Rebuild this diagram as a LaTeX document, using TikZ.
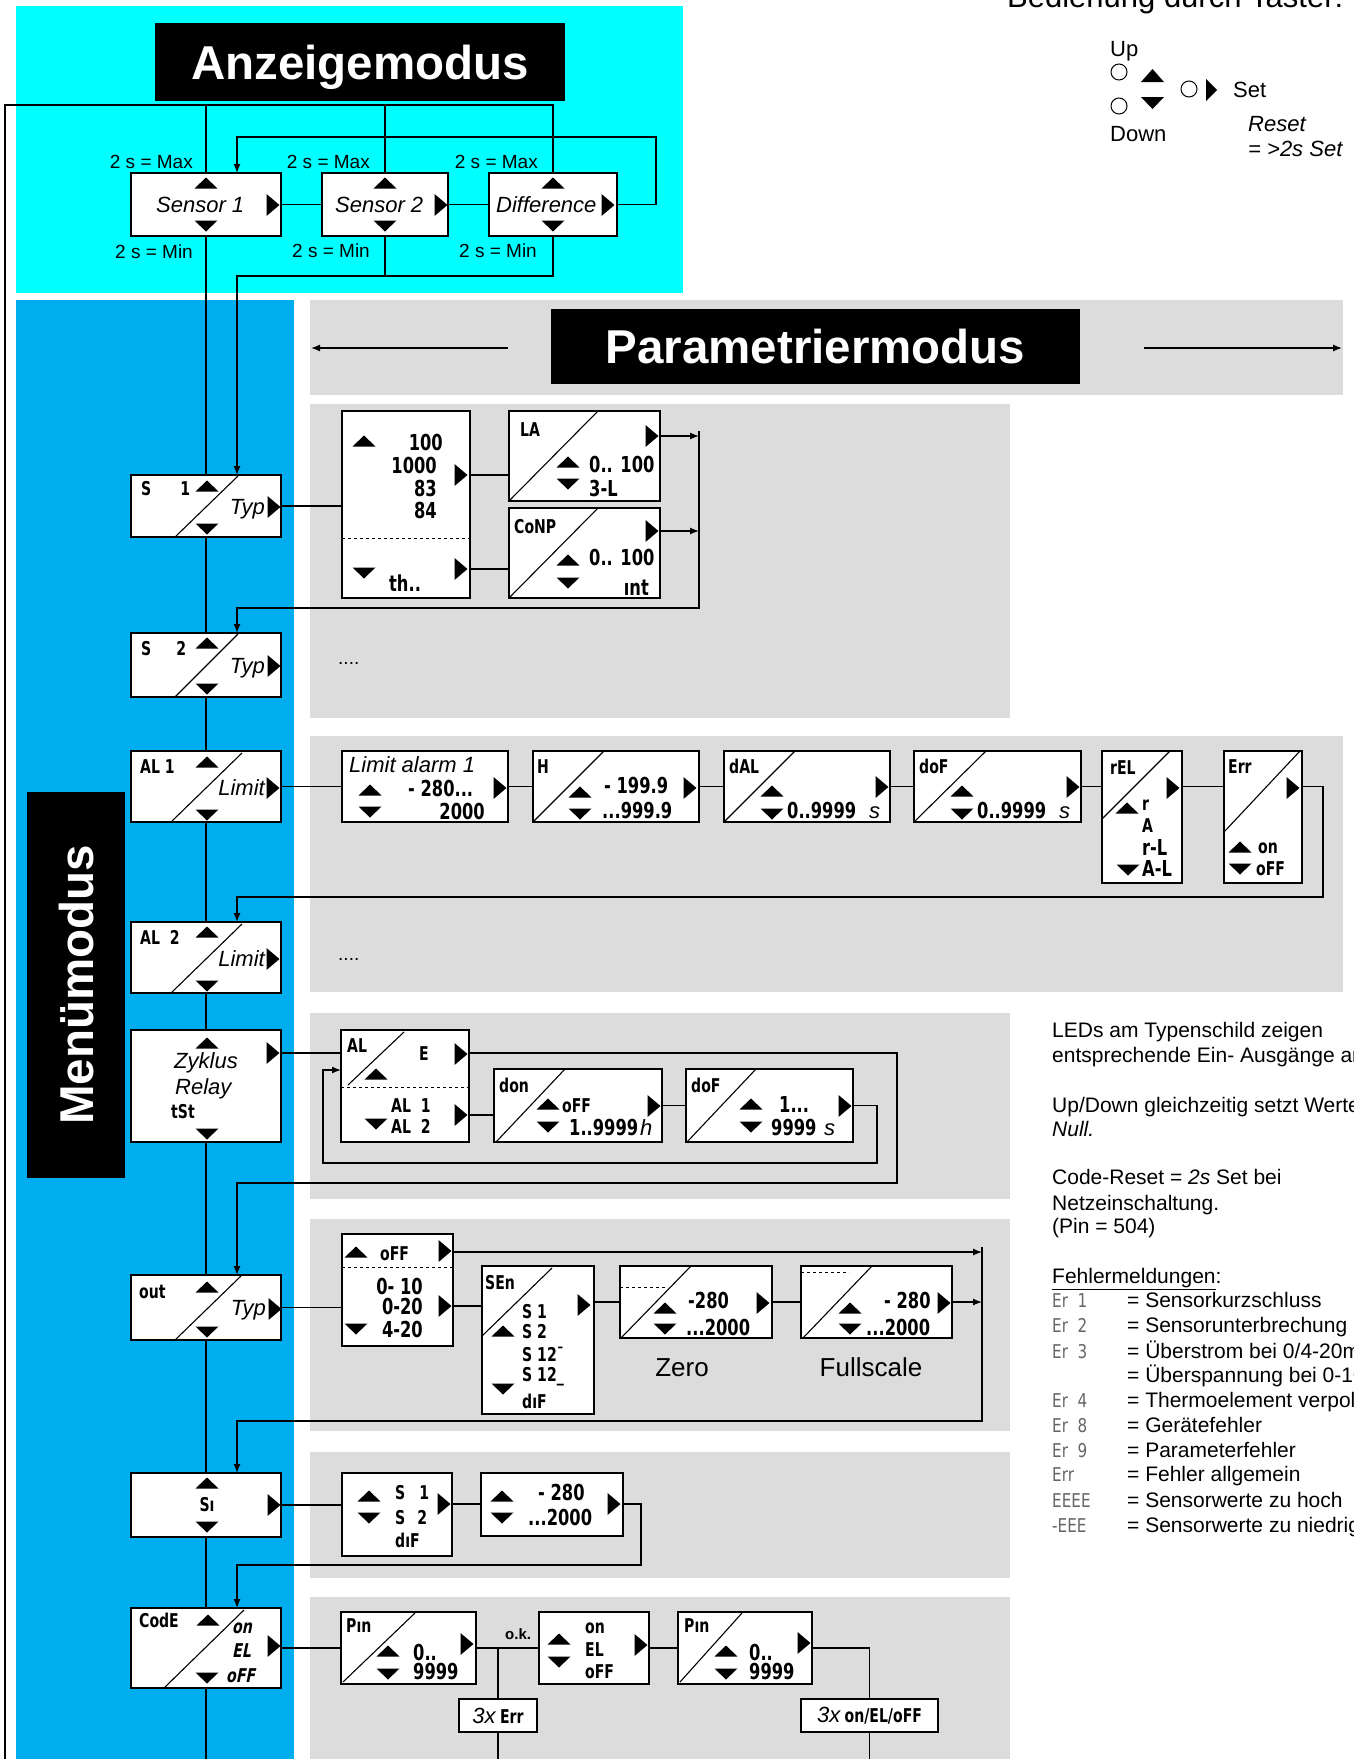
\documentclass[tikz,border=0pt]{standalone}
\usepackage{fontspec}
\setmainfont{Liberation Sans}
\newfontfamily\seg[FakeStretch=0.74]{DejaVu Sans Bold}
\newfontfamily\segi[FakeStretch=0.74,FakeSlant=0.2]{DejaVu Sans Bold}
\newfontfamily\segthin[FakeStretch=0.8]{DejaVu Sans}
\usetikzlibrary{arrows.meta}
\definecolor{cyanbg}{RGB}{0,255,255}
\definecolor{menublue}{RGB}{0,174,239}
\definecolor{pgray}{RGB}{220,220,220}
\tikzset{
  tu/.pic={\fill (-11.5,5.5) -- (11.5,5.5) -- (0,-5.5) -- cycle;},
  td/.pic={\fill (-11.5,-5.5) -- (11.5,-5.5) -- (0,5.5) -- cycle;},
  tr/.pic={\fill (-6.5,-11) -- (6.5,0) -- (-6.5,11) -- cycle;},
}
\newcounter{tn}
\newcommand\lbl[3]{\stepcounter{tn}\edef\tmpname{t\arabic{tn}}\node[#1] (\tmpname) at (#2) {#3};}
\newcommand\bx[5]{\node[bx,anchor=north west,minimum width={#4-#2},minimum height={#5-#3}] (#1) at (#2,#3) {};}
\begin{document}
\begin{tikzpicture}[x=1pt,y=-1pt,
  bx/.style={draw,fill=white,line width=1.4pt,inner sep=0pt,outer sep=0pt},
  ln/.style={line width=1.3pt},
  dg/.style={line width=1.1pt},
  dsh/.style={dashed,line width=1pt},
  arr/.style={ln,-{Latex[length=9pt,width=7pt]}},
  lft/.style={anchor=base west,inner sep=0pt},
  rgt/.style={anchor=base east,inner sep=0pt},
  ctr/.style={anchor=base,inner sep=0pt},
  sg/.style={font=\seg\fontsize{22}{26}\selectfont},
  sl/.style={font=\seg\fontsize{19}{22}\selectfont},
  si/.style={font=\segi\fontsize{19}{22}\selectfont},
  er/.style={font=\segthin\fontsize{19}{22}\selectfont,text=black!60},
  it/.style={font=\itshape\fontsize{22}{26}\selectfont},
  ar/.style={font=\fontsize{19}{23}\selectfont},
  rt/.style={font=\fontsize{21}{25}\selectfont},
  lg/.style={font=\fontsize{22}{26}\selectfont},
  ttl/.style={fill=black,text=white,font=\bfseries\fontsize{47.5}{50}\selectfont,inner sep=0pt,text depth=0pt},
]
\useasboundingbox (0,0) rectangle (1353,1759);
% ---------- backgrounds
\fill[cyanbg] (16,6) rectangle (683,293);
\fill[menublue] (16,300) rectangle (294,1759);
\fill[pgray] (310,300) rectangle (1343,395);
\fill[pgray] (310,404) rectangle (1010,718);
\fill[pgray] (310,736) rectangle (1343,992);
\fill[pgray] (310,1013) rectangle (1010,1199);
\fill[pgray] (310,1219) rectangle (1010,1431);
\fill[pgray] (310,1452) rectangle (1010,1578);
\fill[pgray] (310,1597) rectangle (1010,1759);
% ---------- titles
\node[ttl,minimum width=410,minimum height=78] (tA) at (360,62) {Anzeigemodus};
\node[ttl,minimum width=529,minimum height=75] (tP) at (815.5,346.5) {Parametriermodus};
\node[ttl,rotate=90,minimum width=386,minimum height=98] (tM) at (76,985) {Menümodus};
\coordinate (hA1) at (508,348); \coordinate (hA2) at (311,348);
\coordinate (hB1) at (1144,348); \coordinate (hB2) at (1342,348);
\draw[arr] (hA1) -- (hA2);
\draw[arr] (hB1) -- (hB2);
% ---------- boxes
\bx{sen1}{131}{173}{281}{236}
\bx{sen2}{322}{173}{448}{236}
\bx{diff}{489}{173}{617}{236}
\bx{mS1}{131}{475}{281}{537}
\bx{mS2}{131}{633}{281}{697}
\bx{mAL1}{131}{751}{281}{822}
\bx{mAL2}{131}{922}{281}{993}
\bx{mZyk}{131}{1030}{281}{1142}
\bx{mOut}{131}{1275}{281}{1340}
\bx{mSi}{131}{1473}{281}{1537}
\bx{mCode}{131}{1608}{281}{1688}
\bx{typ}{342}{411}{470}{598}
\bx{la}{509}{411}{660}{501}
\bx{comp}{509}{508}{660}{598}
\bx{lim}{342}{751}{508}{822}
\bx{hy}{533}{751}{699}{822}
\bx{dal}{724}{751}{890}{822}
\bx{dof}{914}{751}{1081}{822}
\bx{rel}{1102}{751}{1182}{883}
\bx{err}{1224}{751}{1302}{883}
\bx{ale}{341}{1030}{469}{1142}
\bx{don}{494}{1069}{662}{1142}
\bx{dofz}{686}{1069}{853}{1142}
\bx{off}{342}{1234}{453}{1346}
\bx{sen}{482}{1266}{594}{1414}
\bx{zero}{620}{1266}{772}{1338}
\bx{full}{801}{1266}{952}{1338}
\bx{sel}{342}{1473}{452}{1556}
\bx{val}{481}{1473}{623}{1536}
\bx{pina}{341}{1612}{476}{1684}
\bx{onel}{539}{1612}{649}{1684}
\bx{pinb}{678}{1612}{812}{1684}
\node[bx,minimum width=78,minimum height=33] (errx) at (498,1715.5) {\fontsize{22}{26}\selectfont\textit{3x}\,{\seg\fontsize{19}{22}\selectfont Err}};
\node[bx,minimum width=137,minimum height=33] (onx) at (869.5,1715.5) {\fontsize{22}{26}\selectfont\textit{3x}\,{\seg\fontsize{19}{22}\selectfont on/EL/oFF}};
% ---------- connectors: Anzeigemodus
\coordinate (leftbot) at (5,1770);
\draw[ln] (leftbot) -- (5,105) -| (diff.north);
\draw[ln] (sen1.north) -- (sen1.north |- 0,105);
\draw[ln] (sen2.north) -- (sen2.north |- 0,105);
\draw[ln] (sen1.east) -- (sen2.west);
\draw[ln] (sen2.east) -- (diff.west);
\draw[arr] (diff.east) -- (656,204.5) -- (656,137) -- (237,137) -- (sen1.north -| 237,0);
\draw[ln] (sen2.south) -- (sen2.south |- 0,276);
\draw[arr] (diff.south) -- (diff.south |- 0,276) -- (237,276) -- (mS1.north -| 237,0);
\draw[ln] (sen1.south) -- (mS1.north);
% menu chain
\draw[ln] (mS1.south) -- (mS2.north);
\draw[ln] (mS2.south) -- (mAL1.north);
\draw[ln] (mAL1.south) -- (mAL2.north);
\draw[ln] (mAL2.south) -- (mZyk.north);
\draw[ln] (mZyk.south) -- (mOut.north);
\draw[ln] (mOut.south) -- (mSi.north);
\draw[ln] (mSi.south) -- (mCode.north);
\draw[ln] (mCode.south) -- (mCode.south |- 0,1770);
% S1 panel
\draw[ln] (mS1.east) -- (typ.west |- mS1.east);
\draw[ln] (typ.east |- 0,475) -- (la.west |- 0,475);
\draw[ln] (typ.east |- 0,569) -- (comp.west |- 0,569);
\draw[arr] (la.east |- 0,436) -- (699,436);
\draw[arr] (comp.east |- 0,531) -- (699,531);
\draw[arr] (699,431) -- (699,608) -- (237,608) -- (mS2.north -| 237,0);
% AL panel
\draw[ln] (mAL1.east) -- (lim.west);
\draw[ln] (lim.east) -- (hy.west);
\draw[ln] (hy.east) -- (dal.west);
\draw[ln] (dal.east) -- (dof.west);
\draw[ln] (dof.east) -- (rel.west |- dof.east);
\draw[ln] (rel.east |- dof.east) -- (err.west |- dof.east);
\draw[arr] (err.east |- dof.east) -- (1323,786.5) -- (1323,897) -- (237,897) -- (mAL2.north -| 237,0);
% Zyklus panel
\draw[ln] (mZyk.east |- 0,1053) -- (ale.west |- 0,1053);
\draw[ln] (ale.east |- 0,1115) -- (don.west |- 0,1115);
\draw[ln] (don.east) -- (dofz.west);
\draw[arr] (dofz.east) -- (877,1105.5) -- (877,1163) -- (323,1163) -- (323,1070) -- (ale.west |- 0,1070);
\draw[arr] (ale.east |- 0,1053) -- (897,1053) -- (897,1183) -- (237,1183) -- (mOut.north -| 237,0);
% out panel
\draw[ln] (mOut.east) -- (off.west |- mOut.east);
\draw[ln] (off.east |- 0,1306) -- (sen.west |- 0,1306);
\draw[ln] (sen.east |- zero.west) -- (zero.west);
\draw[ln] (zero.east) -- (full.west);
\draw[arr] (full.east) -- (982,1302);
\draw[arr] (off.east |- 0,1252) -- (982,1252);
\draw[arr] (982,1247) -- (982,1421) -- (237,1421) -- (mSi.north -| 237,0);
% Si panel
\draw[ln] (mSi.east) -- (sel.west |- mSi.east);
\draw[ln] (sel.east |- 0,1504) -- (val.west |- 0,1504);
\draw[arr] (val.east |- 0,1504) -- (641,1504) -- (641,1565) -- (237,1565) -- (mCode.north -| 237,0);
% Code panel
\draw[ln] (mCode.east) -- (pina.west |- mCode.east);
\draw[ln] (pina.east) -- (onel.west);
\coordinate (jn) at (errx.north |- pina.east);
\draw[ln] (jn) -- (errx.north);
\draw[ln] (errx.south) -- (errx.south |- 0,1770);
\draw[ln] (onel.east) -- (pinb.west);
\draw[ln] (pinb.east) -| (onx.north);
\draw[ln] (onx.south) -- (onx.south |- 0,1770);
% ---------- Anzeigemodus contents
\lbl{it,lft}{156,212}{Sensor 1}
\lbl{it,lft}{335,212}{Sensor 2}
\lbl{it,lft}{496,212}{Difference}
\pic at (206,183) {tu}; \pic at (206,226) {td}; \pic at (273,205) {tr};
\pic at (385,183) {tu}; \pic at (385,226) {td}; \pic at (441,205) {tr};
\pic at (553,183) {tu}; \pic at (553,226) {td}; \pic at (608,205) {tr};
\lbl{ar,rgt}{193,168}{2 s = Max}
\lbl{ar,rgt}{370,168}{2 s = Max}
\lbl{ar,rgt}{538,168}{2 s = Max}
\lbl{ar,rgt}{193,258}{2 s = Min}
\lbl{ar,rgt}{370,257}{2 s = Min}
\lbl{ar,rgt}{537,257}{2 s = Min}
% ---------- menu boxes contents
\lbl{sl,lft}{141,495}{S\hspace{29pt}1}
\pic at (207,486) {tu}; \draw[dg] (175,537) -- (238,476);
\lbl{it,rgt}{265,514}{Typ} \pic at (274,507) {tr}; \pic at (207,529) {td};
\lbl{sl,lft}{141,655}{S\hspace{25pt}2}
\pic at (207,643) {tu}; \draw[dg] (175,697) -- (238,634);
\lbl{it,rgt}{265,673}{Typ} \pic at (274,666) {tr}; \pic at (207,689) {td};
\lbl{sl,lft}{140,773}{AL 1}
\pic at (207,762) {tu}; \draw[dg] (171,822) -- (242,753);
\lbl{it,rgt}{265,795}{Limit} \pic at (273,788) {tr}; \pic at (207,815) {td};
\lbl{sl,lft}{140,944}{AL~~2}
\pic at (207,932) {tu}; \draw[dg] (171,993) -- (242,924);
\lbl{it,rgt}{265,966}{Limit} \pic at (273,959) {tr}; \pic at (207,986) {td};
\pic at (207,1043) {tu};
\lbl{it,lft}{174,1068}{Zyklus}
\lbl{it,lft}{175,1094}{Relay}
\lbl{sl,lft}{171,1118}{tSt}
\pic at (207,1134) {td}; \pic at (273,1053) {tr};
\lbl{sl,lft}{139,1298}{out}
\pic at (207,1287) {tu}; \draw[dg] (175,1340) -- (241,1276);
\lbl{it,rgt}{266,1315}{Typ} \pic at (275,1309) {tr}; \pic at (207,1332) {td};
\pic at (207,1483) {tu};
\lbl{sl,ctr}{207,1511}{Sı}
\pic at (207,1527) {td}; \pic at (274,1505) {tr};
\lbl{sl,lft}{139,1627}{CodE}
\pic at (208,1620) {tu}; \draw[dg] (164,1688) -- (244,1610);
\lbl{si,lft}{232,1633}{on}
\lbl{si,lft}{232,1657}{EL}
\pic at (274,1646) {tr}; \pic at (207,1678) {td};
\lbl{si,lft}{226,1682}{oFF}
% ---------- S1 panel
\pic at (364,441) {tu};
\lbl{sg,rgt}{443,450}{100}
\lbl{sg,rgt}{437,473}{1000}
\lbl{sg,rgt}{437,496}{83}
\lbl{sg,rgt}{437,518}{84}
\pic at (461,475) {tr};
\draw[dsh] (typ.west |- 0,538) -- (typ.east |- 0,538);
\pic at (364,573) {td};
\lbl{sg,lft}{389,591}{th..}
\pic at (461,569) {tr};
\draw[dg] (509,501) -- (598,411);
\lbl{sl,lft}{520,436}{LA}
\pic at (652,436) {tr}; \pic at (568,462) {tu};
\lbl{sg,lft}{589,472}{0.. 100}
\pic at (568,484) {td};
\lbl{sg,lft}{589,496}{3-L}
\draw[dg] (509,598) -- (598,508);
\lbl{sl,lft}{514,533}{CoNP}
\pic at (652,531) {tr}; \pic at (568,560) {tu};
\lbl{sg,lft}{589,565}{0.. 100}
\pic at (568,583) {td};
\lbl{sg,rgt}{649,595}{ınt}
\lbl{ar,lft}{338,664}{....}
% ---------- AL panel
\lbl{it,lft}{349,772}{Limit alarm 1}
\pic at (370,790) {tu}; \pic at (370,812) {td};
\lbl{sg,lft}{408,796}{-  280...}
\lbl{sg,rgt}{485,819}{2000}
\pic at (500,788) {tr};
\draw[dg] (533,822) -- (604,751);
\lbl{sl,lft}{537,773}{H}
\pic at (580,792) {tu}; \pic at (580,814) {td};
\lbl{sg,lft}{604,793}{- 199.9}
\lbl{sg,lft}{602,818}{...999.9}
\pic at (690,788) {tr};
\draw[dg] (724,822) -- (795,751);
\lbl{sl,lft}{729,773}{dAL}
\pic at (882,787) {tr}; \pic at (772,791) {tu}; \pic at (772,814) {td};
\lbl{sg,lft}{787,818}{0..9999}
\lbl{it,lft}{869,818}{s}
\draw[dg] (914,822) -- (986,751);
\lbl{sl,lft}{919,773}{doF}
\pic at (1073,787) {tr}; \pic at (962,791) {tu}; \pic at (962,814) {td};
\lbl{sg,lft}{977,818}{0..9999}
\lbl{it,lft}{1059,818}{s}
\draw[dg] (1102,819) -- (1170,751);
\lbl{sl,lft}{1110,774}{rEL}
\pic at (1173,788) {tr}; \pic at (1127,808) {tu};
\lbl{sl,lft}{1142,810}{r}
\lbl{sl,lft}{1142,832}{A}
\lbl{sg,lft}{1142,855}{r-L}
\pic at (1128,870) {td};
\lbl{sg,lft}{1142,876}{A-L}
\draw[dg] (1224,832) -- (1300,751);
\lbl{sl,lft}{1228,773}{Err}
\pic at (1293,788) {tr}; \pic at (1240,847) {tu};
\lbl{sl,lft}{1258,853}{on}
\pic at (1240,869) {td};
\lbl{sl,lft}{1256,875}{oFF}
\lbl{ar,lft}{338,960}{....}
% ---------- Zyklus panel
\draw[dg] (348,1085) -- (404,1032);
\draw[dsh] (ale.west |- 0,1087) -- (ale.east |- 0,1087);
\lbl{sl,lft}{347,1052}{AL}
\lbl{sl,lft}{419,1060}{E}
\pic at (461,1054) {tr}; \pic at (376,1074) {tu};
\lbl{sl,lft}{391,1112}{AL~~1}
\pic at (376,1124) {td};
\lbl{sl,lft}{391,1133}{AL~~2}
\pic at (461,1115) {tr};
\draw[dg] (496,1142) -- (565,1069);
\lbl{sl,lft}{499,1092}{don}
\pic at (548,1104) {tu};
\lbl{sl,lft}{562,1112}{oFF}
\pic at (548,1127) {td};
\lbl{sg,lft}{569,1135}{1..9999}
\lbl{it,lft}{640,1135}{h}
\pic at (654,1106) {tr};
\draw[dg] (687,1142) -- (756,1069);
\lbl{sl,lft}{691,1092}{doF}
\pic at (751,1104) {tu};
\lbl{sg,lft}{779,1112}{1...}
\pic at (751,1127) {td};
\lbl{sg,lft}{771,1135}{9999}
\lbl{it,lft}{824,1135}{s}
\pic at (845,1106) {tr};
% ---------- out panel
\draw[dsh] (off.west |- 0,1267) -- (off.east |- 0,1267);
\pic at (356,1252) {tu};
\lbl{sl,lft}{380,1260}{oFF}
\pic at (445,1251) {tr};
\lbl{sg,rgt}{423,1294}{0- 10}
\lbl{sg,rgt}{423,1314}{0-20}
\lbl{sg,rgt}{423,1337}{4-20}
\pic at (356,1329) {td}; \pic at (445,1306) {tr};
\draw[dg] (482,1336) -- (552,1268);
\lbl{sl,lft}{485,1289}{SEn}
\pic at (584,1305) {tr};
\lbl{sl,lft}{522,1318}{S 1}
\pic at (503,1331) {tu};
\lbl{sl,lft}{522,1338}{S 2}
\lbl{sl,lft}{522,1361}{S 12¯}
\lbl{sl,lft}{522,1381}{S 12\_}
\pic at (503,1389) {td};
\lbl{sl,lft}{522,1408}{dıF}
\draw[dsh] (zero.west |- 0,1287) -- (668,1287);
\draw[dg] (621,1338) -- (691,1266);
\pic at (665,1308) {tu};
\lbl{sg,lft}{688,1308}{-280}
\pic at (665,1329) {td};
\lbl{sg,lft}{686,1335}{...2000}
\pic at (763,1303) {tr};
\draw[dsh] (full.west |- 0,1272) -- (849,1272);
\draw[dg] (803,1338) -- (872,1266);
\pic at (850,1308) {tu};
\lbl{sg,lft}{884,1308}{- 280}
\pic at (850,1329) {td};
\lbl{sg,lft}{866,1335}{...2000}
\pic at (944,1303) {tr};
\lbl{font=\fontsize{26}{30}\selectfont,ctr}{682,1376}{Zero}
\lbl{font=\fontsize{26}{30}\selectfont,ctr}{871,1376}{Fullscale}
% ---------- Si panel
\pic at (369,1496) {tu};
\lbl{sl,lft}{395,1499}{S\hspace{14pt}1}
\pic at (369,1518) {td};
\lbl{sl,lft}{395,1524}{S\hspace{12pt}2}
\lbl{sl,lft}{395,1547}{dıF}
\pic at (444,1504) {tr};
\pic at (502,1496) {tu};
\lbl{sg,lft}{538,1500}{- 280}
\pic at (502,1518) {td};
\lbl{sg,lft}{528,1525}{...2000}
\pic at (614,1504) {tr};
% ---------- Code panel
\draw[dg] (343,1682) -- (415,1613);
\lbl{sl,lft}{346,1632}{Pın}
\pic at (388,1651) {tu};
\lbl{sg,lft}{413,1660}{0..}
\pic at (388,1674) {td};
\lbl{sg,lft}{413,1679}{9999}
\pic at (467,1644) {tr};
\lbl{font=\bfseries\fontsize{15}{18}\selectfont,lft}{505,1639}{o.k.}
\pic at (559,1639) {tu}; \pic at (559,1662) {td};
\lbl{sl,lft}{585,1633}{on}
\lbl{sl,lft}{585,1656}{EL}
\lbl{sl,lft}{585,1678}{oFF}
\pic at (641,1645) {tr};
\draw[dg] (680,1682) -- (742,1613);
\lbl{sl,lft}{684,1632}{Pın}
\pic at (726,1651) {tu};
\lbl{sg,lft}{749,1660}{0..}
\pic at (726,1674) {td};
\lbl{sg,lft}{749,1679}{9999}
\pic at (804,1643) {tr};
% ---------- legend top right
\lbl{font=\fontsize{31}{36}\selectfont,lft}{1007,7}{Bedienung durch Taster:}
\lbl{lg,lft}{1110,56}{Up}
\draw[line width=1pt] (1119,72) circle[radius=8pt];
\draw[line width=1pt] (1119,106) circle[radius=8pt];
\draw[line width=1pt] (1189,89) circle[radius=8pt];
\fill (1141,82) -- (1164,82) -- (1152.5,69) -- cycle;
\fill (1141,97) -- (1164,97) -- (1152.5,109) -- cycle;
\fill (1206,79) -- (1217,90) -- (1206,101) -- cycle;
\lbl{lg,lft}{1233,97}{Set}
\lbl{lg,lft}{1110,141}{Down}
\lbl{lg,lft,font=\itshape\fontsize{22}{26}\selectfont}{1248,131}{Reset}
\lbl{lg,lft,font=\itshape\fontsize{22}{26}\selectfont}{1248,156}{= >2s Set}
% ---------- right text column
\lbl{rt,lft}{1052,1037}{LEDs am Typenschild zeigen}
\lbl{rt,lft}{1052,1062}{entsprechende Ein- Ausgänge an}
\lbl{rt,lft}{1052,1112}{Up/Down gleichzeitig setzt Werte auf}
\lbl{rt,lft}{1052,1136}{\textit{Null.}}
\lbl{rt,lft}{1052,1184}{Code-Reset = \textit{2s} Set bei}
\lbl{rt,lft}{1052,1210}{Netzeinschaltung.}
\lbl{rt,lft}{1052,1233}{(Pin = 504)}
\lbl{rt,lft}{1052,1283}{\underline{Fehlermeldungen}:}
\lbl{er,lft}{1052,1307}{Er~~1}
\lbl{rt,lft}{1127,1307}{= Sensorkurzschluss}
\lbl{er,lft}{1052,1332}{Er~~2}
\lbl{rt,lft}{1127,1332}{= Sensorunterbrechung}
\lbl{er,lft}{1052,1358}{Er~~3}
\lbl{rt,lft}{1127,1358}{= Überstrom bei 0/4-20mA}
\lbl{rt,lft}{1127,1382}{= Überspannung bei 0-10V}
\lbl{er,lft}{1052,1407}{Er~~4}
\lbl{rt,lft}{1127,1407}{= Thermoelement verpolt}
\lbl{er,lft}{1052,1432}{Er~~8}
\lbl{rt,lft}{1127,1432}{= Gerätefehler}
\lbl{er,lft}{1052,1457}{Er~~9}
\lbl{rt,lft}{1127,1457}{= Parameterfehler}
\lbl{er,lft}{1052,1481}{Err}
\lbl{rt,lft}{1127,1481}{= Fehler allgemein}
\lbl{er,lft}{1052,1507}{EEEE}
\lbl{rt,lft}{1127,1507}{= Sensorwerte zu hoch}
\lbl{er,lft}{1052,1532}{-EEE}
\lbl{rt,lft}{1127,1532}{= Sensorwerte zu niedrig}
\end{tikzpicture}
\end{document}
